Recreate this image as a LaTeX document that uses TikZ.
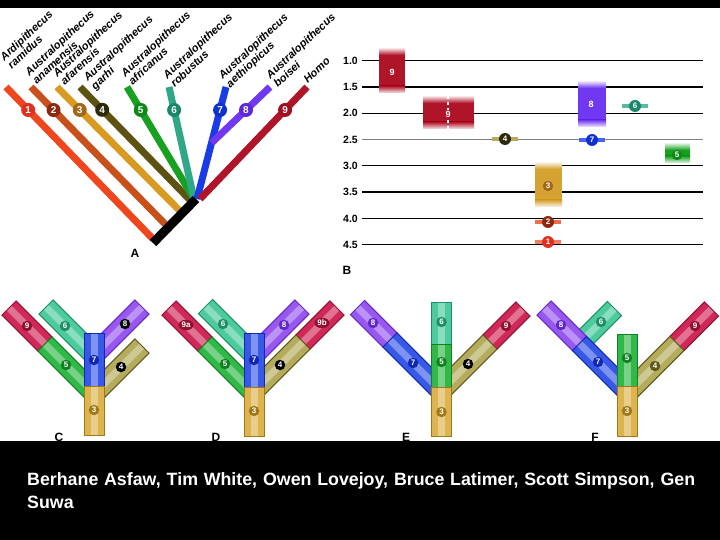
\documentclass[tikz,border=0pt]{standalone}
\usepackage{fontspec}
\setmainfont{Liberation Sans}
\usetikzlibrary{calc,shapes.geometric}

% branch colours (panel A)
\definecolor{a1}{HTML}{F0461E}
\definecolor{a2}{HTML}{C8501A}
\definecolor{a3}{HTML}{D89A20}
\definecolor{a4}{HTML}{5C5212}
\definecolor{a5}{HTML}{18A020}
\definecolor{a6}{HTML}{30A888}
\definecolor{a7}{HTML}{1A3CE8}
\definecolor{a8}{HTML}{7038F0}
\definecolor{a9}{HTML}{B01428}
\definecolor{k1}{HTML}{E03020}
\definecolor{k2}{HTML}{8C2810}
\definecolor{k3}{HTML}{A06818}
\definecolor{k4}{HTML}{2C2808}
\definecolor{k5}{HTML}{108818}
\definecolor{k6}{HTML}{188868}
\definecolor{k7}{HTML}{1030D0}
\definecolor{k8}{HTML}{5C28D8}
\definecolor{k9}{HTML}{A01020}
\definecolor{b3}{HTML}{D6A232}
% bar colours (panels C-F)
\definecolor{y3}{HTML}{DDB44E}
\definecolor{y3d}{HTML}{A07818}
\definecolor{y4}{HTML}{B4AC5C}
\definecolor{y4d}{HTML}{5E5818}
\definecolor{y5}{HTML}{30B848}
\definecolor{y5d}{HTML}{108020}
\definecolor{y6}{HTML}{4CCB9C}
\definecolor{y6d}{HTML}{1E8E66}
\definecolor{y7}{HTML}{3858E8}
\definecolor{y7d}{HTML}{1028B0}
\definecolor{y8}{HTML}{9858F0}
\definecolor{y8d}{HTML}{6028C8}
\definecolor{y9}{HTML}{D02858}
\definecolor{y9d}{HTML}{901030}

% one bar of a Y: from, to, colour number
\newcommand{\ylimb}[3]{%
  \fill[y#3] ($(#1)!10pt!90:(#2)$) -- ($(#1)!10pt!-90:(#2)$)
    -- ($(#2)!10pt!90:(#1)$) -- ($(#2)!10pt!-90:(#1)$) -- cycle;
  \draw[y#3!50!white, opacity=.7, line width=7pt] (#1) -- (#2);
  \draw[y#3d, line width=1pt] ($(#1)!10pt!90:(#2)$) -- ($(#1)!10pt!-90:(#2)$)
    -- ($(#2)!10pt!90:(#1)$) -- ($(#2)!10pt!-90:(#1)$) -- cycle;}

% fuzzy time range box: x1, x2, y1, y2, colour
\newcommand{\agebox}[5]{%
  \shade[top color=#5!10!white, bottom color=#5] (#1,#3-7) rectangle (#2,#3);
  \fill[#5] (#1,#3) rectangle (#2,#4);
  \shade[top color=#5, bottom color=#5!10!white] (#1,#4) rectangle (#2,#4+7);}

% point date: x, y, bar colour, dot colour, label
\newcommand{\agemark}[5]{%
  \draw[line width=4pt, #3] (#1-13,#2) -- (#1+13,#2);
  \node[numdot=#4, minimum size=12pt] (m#5) at (#1,#2) {#5};}

\begin{document}
\begin{tikzpicture}[
        x = 1pt, y = -1pt, % one unit per pixel, y downwards
        line cap = butt,
        bigdot/.style = {circle, fill=#1, text=white, inner sep=0pt, minimum size=14pt,
                         font=\bfseries\fontsize{10}{10}\selectfont},
        numdot/.style = {circle, fill=#1, text=white, inner sep=0pt, minimum size=10.5pt,
                         font=\bfseries\fontsize{8}{8}\selectfont},
        numoval/.style = {ellipse, fill=#1, text=white, inner sep=0pt, minimum height=10.5pt,
                          minimum width=15pt, font=\bfseries\fontsize{8}{8}\selectfont},
        branch/.style = {line width=7pt}
        ]

        \tikzstyle{species}=[rotate=43, anchor=south west, inner sep=0pt, align=left,
                font=\bfseries\itshape\fontsize{11}{10}\selectfont]
        \tikzstyle{ticklab}=[anchor=east, inner sep=0pt, font=\bfseries\fontsize{10.5}{10.5}\selectfont]
        \tikzstyle{panel}=[inner sep=0pt, font=\bfseries\fontsize{12}{12}\selectfont]
        \tikzstyle{boxnum}=[text=white, inner sep=0pt, font=\bfseries\fontsize{9}{9}\selectfont]

        \useasboundingbox (0,0) rectangle (720,540);
        \fill[white] (0,0) rectangle (720,540);
        \fill[black] (0,0) rectangle (720,8);

        % A: the tree
        \coordinate (root) at (196,199);
        \coordinate (base) at (153,243);
        \foreach \i/\tx/\bx/\by in {1/6/153/239, 2/31/166/225, 3/57/180/211, 4/80/191/201,
                5/127/194/199, 6/169/194/199, 7/226/197/199, 9/307/200/199} {
            \coordinate (top\i) at (\tx,87);
            \coordinate (end\i) at (\bx,\by);
        }
        \coordinate (top8) at (270,87);
        \coordinate (end8) at ($(top7)!.5!(end7)$);

        \foreach \i/\p in {1/.151, 2/.167, 3/.185, 4/.2, 5/.205, 6/.205, 7/.205, 8/.41, 9/.205}
            \draw[branch, a\i] (top\i) -- (end\i) node[bigdot=k\i, pos=\p] (n\i) {\i};
        \draw[line width=9pt, black] (base) -- (root);

        \node[species] (sp1) at (12,70) {Ardipithecus\\ramidus};
        \node[species] (sp2) at (37,85) {Australopithecus\\anamensis};
        \node[species] (sp3) at (65,86) {Australopithecus\\afarensis};
        \node[species] (sp4) at (97,92) {Australopithecus\\garhi};
        \node[species] (sp5) at (133,86) {Australopithecus\\africanus};
        \node[species] (sp6) at (175,88) {Australopithecus\\robustus};
        \node[species] (sp7) at (232,90) {Australopithecus\\aethiopicus};
        \node[species] (sp8) at (278,88) {Australopithecus\\boisei};
        \node[species] (sp9) at (308,84) {Homo};
        \node[panel] (labA) at (135,253) {A};

        % B: dates
        \foreach \t/\w/\c [count=\i] in {1.0/1.6/black, 1.5/1.6/black, 2.0/1.2/black, 2.5/0.8/gray,
                3.0/1.2/black, 3.5/1.6/black, 4.0/1.6/black, 4.5/1.2/black} {
            \pgfmathsetmacro{\yy}{60.7+(\t-1)*52.6}
            \draw[line width=\w pt, \c] (362,\yy) -- (703,\yy);
            \node[ticklab] (tick\i) at (358,\yy) {\t};
        }
        \agebox{379}{405}{55}{86}{a9}
        \node[boxnum] (h9a) at (392,72) {9};
        \agebox{423}{474}{103}{122}{a9}
        \draw[white, dashed, line width=1.2pt] (448,96) -- (448,129);
        \node[boxnum, fill=a9, inner sep=1pt] (h9b) at (448,114) {9};
        \agebox{535}{562}{169}{200}{b3}
        \node[numdot=k3] (h3) at (548,186) {3};
        \agebox{578}{606}{88}{120}{a8}
        \node[boxnum] (h8) at (591,104) {8};
        \agebox{665}{690}{150}{156}{a5}
        \node[numdot=k5] (h5) at (677,155) {5};
        \agemark{505}{139}{y4}{k4}{4}
        \agemark{592}{140}{a7!80!white}{k7}{7}
        \agemark{635}{106}{a6!80!white}{k6}{6}
        \agemark{548}{222}{a1!80!white}{k2}{2}
        \agemark{548}{242}{a1!70!white}{k1}{1}
        \node[panel] (labB) at (347,270) {B};

        % C
        \ylimb{9,308}{45,344}{9}
        \ylimb{45,344}{94,393}{5}
        \ylimb{46,307}{94,355}{6}
        \ylimb{142,307}{94,355}{8}
        \ylimb{142,346}{94,394}{4}
        \ylimb{94,333}{94,386}{7}
        \ylimb{94,386}{94,435}{3}
        \node[numdot=y9d] (c9) at (27,326) {9};
        \node[numdot=y6d] (c6) at (65,326) {6};
        \node[numdot=black] (c8) at (125,324) {8};
        \node[numdot=y5d] (c5) at (66,365) {5};
        \node[numdot=y7d] (c7) at (94,360) {7};
        \node[numdot=black] (c4) at (121,367) {4};
        \node[numdot=y3d] (c3) at (94,410) {3};

        % D
        \ylimb{169,308}{205,344}{9}
        \ylimb{205,344}{254,393}{5}
        \ylimb{205.5,306.5}{254,355}{6}
        \ylimb{302,307}{254,355}{8}
        \ylimb{337,308}{303,342}{9}
        \ylimb{303,342}{254,391}{4}
        \ylimb{254,333}{254,387}{7}
        \ylimb{254,387}{254,436}{3}
        \node[numoval=y9d] (d9a) at (186,325) {9a};
        \node[numdot=y6d] (d6) at (223,324) {6};
        \node[numdot=y8d] (d8) at (284,325) {8};
        \node[numoval=y9d] (d9b) at (322,323) {9b};
        \node[numdot=y5d] (d5) at (225,364) {5};
        \node[numdot=y7d] (d7) at (254,360) {7};
        \node[numdot=black] (d4) at (280,365) {4};
        \node[numdot=y3d] (d3) at (254,411) {3};

        % E
        \ylimb{357.5,307.5}{390,340}{8}
        \ylimb{390,340}{441.5,391.5}{7}
        \ylimb{523,309}{490,342}{9}
        \ylimb{490,342}{441.5,390.5}{4}
        \ylimb{441.5,302}{441.5,344}{6}
        \ylimb{441.5,344}{441.5,387}{5}
        \ylimb{441.5,387}{441.5,436}{3}
        \node[numdot=y8d] (e8) at (373,323) {8};
        \node[numdot=y7d] (e7) at (413,363) {7};
        \node[numdot=y6d] (e6) at (441.5,322) {6};
        \node[numdot=y5d] (e5) at (441.5,362) {5};
        \node[numdot=y9d] (e9) at (506,326) {9};
        \node[numdot=black] (e4) at (468,364) {4};
        \node[numdot=y3d] (e3) at (441.5,412) {3};

        % F
        \ylimb{614.5,308.5}{579.5,343.5}{6}
        \ylimb{544,308}{579.5,343.5}{8}
        \ylimb{579.5,343.5}{627,391}{7}
        \ylimb{711.5,309}{677,343.5}{9}
        \ylimb{677,343.5}{627,393.5}{4}
        \ylimb{627,334}{627,386}{5}
        \ylimb{627,386}{627,436}{3}
        \node[numdot=y8d] (f8) at (561,325) {8};
        \node[numdot=y6d] (f6) at (601,322) {6};
        \node[numdot=y7d] (f7) at (598,362) {7};
        \node[numdot=y5d] (f5) at (627,358) {5};
        \node[numdot=y9d] (f9) at (695,326) {9};
        \node[numdot=y4d] (f4) at (655,366) {4};
        \node[numdot=y3d] (f3) at (627,411) {3};

        \node[panel, anchor=north] (labC) at (59,433) {C};
        \node[panel, anchor=north] (labD) at (216,433) {D};
        \node[panel, anchor=north] (labE) at (406,433) {E};
        \node[panel, anchor=north] (labF) at (595,433) {F};

        % credits
        \fill[black] (0,441) rectangle (720,540);
        \node[anchor=north west, inner sep=0pt, text=white, align=left,
              font=\bfseries\fontsize{17.8}{23}\selectfont] (credit) at (27,472)
              {\makebox[668pt][s]{Berhane Asfaw, Tim White, Owen Lovejoy, Bruce Latimer, Scott Simpson, Gen}\\Suwa};
\end{tikzpicture}
\end{document}
